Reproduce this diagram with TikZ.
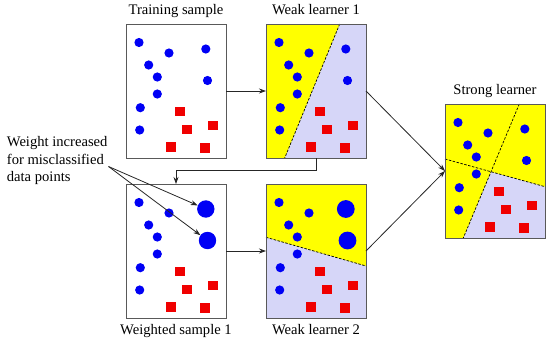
\documentclass[tikz,border=0pt]{standalone}
\usepackage{fontspec}
\setmainfont{Liberation Serif}
\usetikzlibrary{arrows.meta, positioning, backgrounds}

\definecolor{ptblue}{RGB}{0,0,245}
\definecolor{ptred}{RGB}{240,0,0}
\definecolor{regyellow}{RGB}{255,255,0}
\definecolor{reglavender}{RGB}{214,214,248}

% points of one sample, #2 = radius of the two right circles
\newcommand{\samplepoints}[2]{%
  \begin{scope}[shift={(#1.north west)}]
    \foreach \px/\py in {13/18.5, 43/29, 22.7/41, 31.3/53, 31.3/70, 14.3/83.7, 13.7/106}
      \fill[ptblue] (\px,\py) circle (4.6);
    \foreach \px/\py in {53.7/87.3, 60.7/105.3, 86.7/101.3, 44.7/122.7, 79/123.7}
      \fill[ptred] (\px,\py) +(-4.8,-4.8) rectangle +(4.8,4.8);
    \node[dot, minimum size=2*#2] (#1-a) at (79.8,25) {};
    \node[dot, minimum size=2*#2] (#1-b) at (81.5,56.5) {};
  \end{scope}}

\begin{document}
\begin{tikzpicture}[
x=1pt, y=-1pt,
font=\fontsize{14.6}{17.5}\selectfont,
node distance=40pt,
box/.style={draw=black!65, line width=0.9pt, rectangle, minimum width=100pt, minimum height=134pt, inner sep=0pt, outer sep=0pt},
dot/.style={circle, fill=ptblue, inner sep=0pt},
every label/.style={inner sep=0pt, text height=10pt, text depth=3pt},
label distance=6.5pt,
split/.style={black, dash pattern=on 2.5pt off 1.5pt, line width=0.7pt},
arrow/.style={-{Stealth[length=7pt, width=5pt]}, line width=0.8pt, black!85}
]
\useasboundingbox (0,0) rectangle (550,343);

\node[box, label=above:Training sample] (training) at (176,91) {};
\node[box, label=above:Weak learner 1, right=of training] (wl1) {};
\node[box, label=below:Weighted sample 1, below=26pt of training] (weighted) {};
\node[box, label=below:Weak learner 2, right=of weighted] (wl2) {};
\node[box, label=above:Strong learner] (strong) at (495,171) {};

\node[anchor=north west, inner sep=0pt, align=left] (note) at (6.7,136.5)
  {Weight increased\\for misclassified\\data points};
\coordinate (notetip) at (108.5,166.5);

\begin{scope}[on background layer]
  \fill[reglavender] (wl1.north west) rectangle (wl1.south east);
  \fill[reglavender] (wl2.north west) rectangle (wl2.south east);
  \fill[reglavender] (strong.north west) rectangle (strong.south east);
  \begin{scope}[shift={(wl1.north west)}]
    \fill[regyellow] (0,0) -- (73.7,0) -- (18.7,134) -- (0,134) -- cycle;
    \draw[split] (73.7,0) -- (18.7,134);
  \end{scope}
  \begin{scope}[shift={(wl2.north west)}]
    \fill[regyellow] (0,0) -- (100,0) -- (100,82) -- (0,53.3) -- cycle;
    \draw[split] (0,53.3) -- (100,82);
  \end{scope}
  \begin{scope}[shift={(strong.north west)}]
    \fill[regyellow] (0,0) -- (100,0) -- (100,82.7) -- (46,67.7) -- (18.3,134) -- (0,134) -- cycle;
    \draw[split] (74.3,0) -- (18.3,134);
    \draw[split] (0,55) -- (100,82.7);
  \end{scope}
\end{scope}

\samplepoints{training}{4.6}
\samplepoints{wl1}{4.6}
\samplepoints{weighted}{8.7}
\samplepoints{wl2}{8.9}
\samplepoints{strong}{4.6}

\draw[arrow] (training) -- (wl1);
\draw[arrow] (weighted) -- (wl2);
\draw[arrow] (wl1.east) -- (strong.west);
\draw[arrow] (wl2.east) -- (strong.west);
\draw[arrow] (wl1.south) -- ++(0,12.5) -| (weighted.north);
\draw[arrow] (notetip) -- (weighted-a);
\draw[arrow] (notetip) -- (weighted-b);

\end{tikzpicture}
\end{document}
